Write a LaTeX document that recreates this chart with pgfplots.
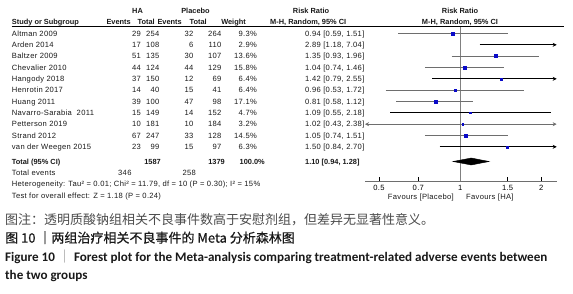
\documentclass[border=0pt]{standalone}
\usepackage{fontspec}
\usepackage{pgfplots}
\pgfplotsset{compat=1.18}
\usetikzlibrary{arrows.meta}
\setmainfont{Liberation Sans}
\newfontfamily\tabfont[LetterSpace=4]{Liberation Sans}
\newfontfamily\hdfont{Liberation Sans}
\newfontfamily\cjk{Noto Sans CJK SC}
\newfontfamily\cjkb[FakeBold=0.5]{Noto Sans CJK SC}
\newfontfamily\carl{Carlito}
\newcommand\tf{\tabfont\fontsize{7.6}{8}\selectfont}
\newcommand\hf{\hdfont\bfseries\fontsize{7.4}{8}\selectfont}
\definecolor{sqblue}{RGB}{10,10,200}
\definecolor{cigray}{RGB}{110,110,110}
\newcommand\row[8]{%
 \node[anchor=mid west] at (11.7,#1) {#2};
 \node[anchor=mid east] at (141,#1) {#3};
 \node[anchor=mid east] at (159.5,#1) {#4};
 \node[anchor=mid east] at (193.5,#1) {#5};
 \node[anchor=mid east] at (221.5,#1) {#6};
 \node[anchor=mid east] at (257,#1) {#7};
 \node[anchor=mid west] at (305,#1) {#8};}
\pgfplotsset{cig/.style={cigray, line width=0.8pt},
  cib/.style={black, line width=0.8pt},
  arr/.style={-{Stealth[length=4pt,width=4pt]}}}
\begin{document}
\begin{tikzpicture}
\useasboundingbox (0pt,0pt) rectangle (573pt,-294pt);
\begin{axis}[
  at={(365pt,-26.7pt)}, anchor=north west,
  scale only axis, width=191.7pt, height=154.3pt,
  xmode=log, xmin=0.444, xmax=2.28,
  ymin=-181, ymax=-26.7,
  hide y axis, axis x line*=bottom,
  x axis line style={cigray, line width=0.8pt},
  xtick={0.5,0.7,1,1.5,2}, xticklabels={0.5,0.7,1,1.5,2},
  minor xtick={},
  tick align=inside, major tick length=3.5pt,
  xtick style={black, line width=0.7pt},
  xticklabel style={font=\tf, yshift=-0.5pt},
  /pgf/number format/assume math mode=true,
  clip=false,
]
\addplot[gray, line width=0.8pt] coordinates {(1,-26.7) (1,-181)};
% confidence intervals
\addplot[cig] coordinates {(0.59,-33.5) (1.51,-33.5)};
\addplot[cib,arr] coordinates {(1.18,-44.83) (2.28,-44.83)};
\addplot[cig] coordinates {(0.93,-56.16) (1.96,-56.16)};
\addplot[cig] coordinates {(0.74,-67.49) (1.46,-67.49)};
\addplot[cib,arr] coordinates {(0.79,-78.82) (2.28,-78.82)};
\addplot[cig] coordinates {(0.53,-90.15) (1.72,-90.15)};
\addplot[cig] coordinates {(0.58,-101.48) (1.12,-101.48)};
\addplot[cib] coordinates {(0.55,-112.81) (2.18,-112.81)};
\addplot[cig,{Stealth[length=4pt,width=4pt]}-{Stealth[length=4pt,width=4pt]}] coordinates {(0.444,-124.14) (2.28,-124.14)};
\addplot[cig] coordinates {(0.74,-135.47) (1.51,-135.47)};
\addplot[cib,arr] coordinates {(0.84,-146.8) (2.28,-146.8)};
% point estimates, square size from weight
\addplot[scatter, only marks, mark=square*,
  scatter/use mapped color={draw=sqblue, fill=sqblue},
  visualization depends on={0.4*sqrt(\thisrow{w}) \as \ms},
  scatter/@pre marker code/.append style={/tikz/mark size=\ms}]
  table[x=rr, y=y] {
rr y w
0.94 -33.5 9.3
1.35 -56.16 13.6
1.04 -67.49 15.8
1.42 -78.82 6.4
0.96 -90.15 6.4
0.81 -101.48 17.1
1.09 -112.81 4.7
1.02 -124.14 3.2
1.05 -135.47 14.5
1.50 -146.8 6.3
};
% pooled estimate
\addplot[fill=black, draw=black] coordinates {(0.94,-161.5) (1.10,-158) (1.28,-161.5) (1.10,-165)} -- cycle;
\end{axis}
\begin{scope}[x=1pt, y=-1pt, every node/.style={font=\tf, inner sep=0pt, text=black!90}]
\draw[black, line width=0.8pt] (11.7,26.7) -- (564,26.7);
% header
\node[anchor=mid, font=\hf] at (137.5,11) {HA};
\node[anchor=mid, font=\hf] at (195.5,11) {Placebo};
\node[anchor=mid, font=\hf] at (311,11) {Risk Ratio};
\node[anchor=mid, font=\hf] at (460,11) {Risk Ratio};
\node[anchor=mid west, font=\hf] at (11.7,22) {Study or Subgroup};
\node[anchor=mid east, font=\hf] at (131,22) {Events};
\node[anchor=mid east, font=\hf] at (155,22) {Total};
\node[anchor=mid east, font=\hf] at (182,22) {Events};
\node[anchor=mid east, font=\hf] at (207,22) {Total};
\node[anchor=mid east, font=\hf] at (246,22) {Weight};
\node[anchor=mid west, font=\hf] at (270,22) {M-H, Random, 95\% CI};
\node[anchor=mid, font=\hf] at (460,22) {M-H, Random, 95\% CI};
% rows
\row{33.5}{Altman 2009}{29}{254}{32}{264}{9.3\%}{0.94 [0.59, 1.51]}
\row{44.83}{Arden 2014}{17}{108}{6}{110}{2.9\%}{2.89 [1.18, 7.04]}
\row{56.16}{Baltzer 2009}{51}{135}{30}{107}{13.6\%}{1.35 [0.93, 1.96]}
\row{67.49}{Chevalier 2010}{44}{124}{44}{129}{15.8\%}{1.04 [0.74, 1.46]}
\row{78.82}{Hangody 2018}{37}{150}{12}{69}{6.4\%}{1.42 [0.79, 2.55]}
\row{90.15}{Henrotin 2017}{14}{40}{15}{41}{6.4\%}{0.96 [0.53, 1.72]}
\row{101.48}{Huang 2011}{39}{100}{47}{98}{17.1\%}{0.81 [0.58, 1.12]}
\row{112.81}{Navarro-Sarabia\ \ 2011}{15}{149}{14}{152}{4.7\%}{1.09 [0.55, 2.18]}
\row{124.14}{Petterson 2019}{10}{181}{10}{184}{3.2\%}{1.02 [0.43, 2.38]}
\row{135.47}{Strand 2012}{67}{247}{33}{128}{14.5\%}{1.05 [0.74, 1.51]}
\row{146.8}{van der Weegen 2015}{23}{99}{15}{97}{6.3\%}{1.50 [0.84, 2.70]}
% totals
\node[anchor=mid west, font=\hf] at (11.7,161.5) {Total (95\% CI)};
\node[anchor=mid east, font=\hf] at (161,161.5) {1587};
\node[anchor=mid east, font=\hf] at (225,161.5) {1379};
\node[anchor=mid east, font=\hf] at (265,161.5) {100.0\%};
\node[anchor=mid west, font=\hf] at (305,161.5) {1.10 [0.94, 1.28]};
\node[anchor=mid west] at (11.7,172.8) {Total events};
\node[anchor=mid east] at (131.7,172.8) {346};
\node[anchor=mid east] at (196,172.8) {258};
\node[anchor=mid west] at (11.7,184.1) {Heterogeneity: Tau² = 0.01; Chi² = 11.79, df = 10 (P = 0.30); I² = 15\%};
\node[anchor=mid west] at (11.7,195.4) {Test for overall effect: Z = 1.18 (P = 0.24)};
\node[anchor=mid east] at (454,197) {Favours [Placebo]};
\node[anchor=mid west] at (466,197) {Favours [HA]};
% caption
\node[anchor=mid west, font=\cjk\fontsize{13}{14}\selectfont, text=black!70] at (5,222) {图注：透明质酸钠组相关不良事件数高于安慰剂组，但差异无显著性意义。};
\node[anchor=mid west, font=\cjkb\fontsize{13}{14}\selectfont, text=black!90] at (5,240) {图 10 ｜两组治疗相关不良事件的 Meta 分析森林图};
\node[anchor=mid west, font=\carl\bfseries\fontsize{13.1}{14}\selectfont, text=black!90] at (5,259) {Figure 10 {\cjk\mdseries\color{gray}｜} Forest plot for the Meta-analysis comparing treatment-related adverse events between};
\node[anchor=mid west, font=\carl\bfseries\fontsize{13.1}{14}\selectfont, text=black!90] at (5,277) {the two groups};
\end{scope}
\end{tikzpicture}
\end{document}
